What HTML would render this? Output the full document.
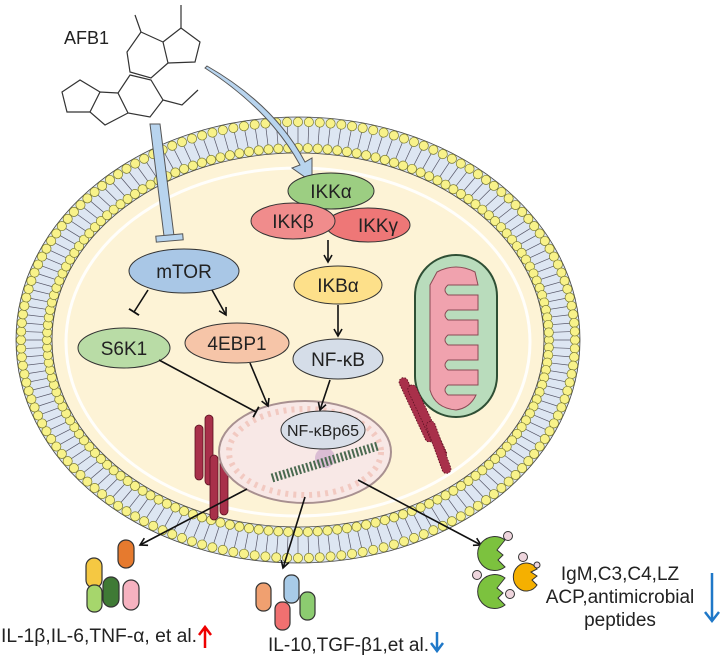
<!DOCTYPE html>
<html><head><meta charset="utf-8"><style>
html,body{margin:0;padding:0;background:#fff;width:721px;height:656px;overflow:hidden}
svg{display:block;font-family:"Liberation Sans",sans-serif}
</style></head><body>
<svg id="fig" width="721" height="656" viewBox="0 0 721 656" xmlns="http://www.w3.org/2000/svg">
<defs>
<marker id="ah" markerWidth="10" markerHeight="10" refX="8" refY="5" orient="auto" markerUnits="userSpaceOnUse"><path d="M1,1 L8,5 L1,9" fill="none" stroke="#111" stroke-width="1.6"/></marker>
<marker id="tb" markerWidth="12" markerHeight="12" refX="1" refY="6" orient="auto" markerUnits="userSpaceOnUse"><path d="M1,0 L1,12" stroke="#111" stroke-width="1.8"/></marker>
</defs>

<!-- membrane -->
<g id="membrane">
<ellipse cx="298" cy="340" rx="282" ry="223" fill="#dde6f2" stroke="#444" stroke-width="0.8"/>
<g id="beads"></g>
<ellipse cx="298" cy="340" rx="246" ry="187" fill="#fdf3d6" stroke="#444" stroke-width="0.8"/>
<ellipse cx="298" cy="342" rx="232" ry="174" fill="none" stroke="#fff" stroke-width="3" opacity="0.9"/>
</g>

<!-- molecule -->
<g stroke="#333" stroke-width="1.2" fill="none">
<path d="M141,32 L163,42 L168,63 L151,78 L130,72 L127,52 Z"/>
<path d="M163,42 L181,28 L200,42 L195,62 L168,63"/>
<path d="M141,32 L135,15 M181,28 L181,5"/>
<path d="M130,75 L151,80 L163,100 L150,117 L128,113 L118,93 Z"/>
<path d="M163,100 L182,105 L198,90"/>
<path d="M118,93 L100,92 L90,112 L105,125 L128,113"/>
<path d="M100,92 L80,80 L62,92 L67,112 L90,112"/>
</g>
<text x="64" y="44" font-size="18" fill="#222">AFB1</text>

<!-- blue arrows -->
<path d="M150,124 L160,124 L174,236 L164,236 Z" fill="#b8d4ee" stroke="#555" stroke-width="1"/>
<rect x="156" y="235" width="27" height="6" fill="#b8d4ee" stroke="#555" stroke-width="1" transform="rotate(-5 169 238)"/>
<path d="M205,68 Q270,110 300,165 L292,168 L312,182 L312,158 L305,162 Q275,105 207,66 Z" fill="#b8d4ee" stroke="#555" stroke-width="1"/>

<!-- mitochondrion -->
<g>
<rect x="415" y="255" width="82" height="162" rx="41" fill="#b9dcbc" stroke="#2f4f35" stroke-width="2"/>
<path d="M437,272 Q456,262 475,272 L478,285 L448,285 Q442,290 448,295 L478,295 L478,310 L448,310 Q442,315 448,320 L478,320 L478,335 L448,335 Q442,340 448,345 L478,345 L478,360 L448,360 Q442,365 448,370 L478,370 L478,385 L448,385 Q442,390 448,395 L476,395 Q470,408 456,410 Q435,408 430,390 L430,285 Z" fill="#f0a2ae" stroke="#8a4a55" stroke-width="1"/>
</g>

<!-- ER left -->
<g fill="#a8304a" stroke="#5a1020" stroke-width="0.8">
<rect x="195" y="425" width="8" height="55" rx="4"/>
<rect x="205" y="415" width="8" height="70" rx="4"/>
<rect x="210" y="455" width="8" height="65" rx="4"/>
<rect x="220" y="460" width="8" height="55" rx="4"/>
</g>
<!-- ER right -->
<g fill="#a8304a" stroke="#5a1020" stroke-width="0.8" stroke-dasharray="1.5 1.5">
<rect x="412" y="375" width="9" height="70" rx="4.5" transform="rotate(-25 416 410)"/>
<rect x="422" y="382" width="9" height="80" rx="4.5" transform="rotate(-25 426 420)"/>
<rect x="434" y="420" width="9" height="55" rx="4.5" transform="rotate(-20 438 447)"/>
</g>

<!-- nucleus -->
<g>
<ellipse cx="305" cy="452" rx="86" ry="51" fill="#f8e8e6" stroke="#a89090" stroke-width="2"/>
<ellipse cx="305" cy="452" rx="76" ry="43" fill="none" stroke="#f0bcb0" stroke-width="6" stroke-dasharray="3 5" opacity="0.7"/>
<circle cx="325" cy="458" r="10" fill="#c8a0c8" opacity="0.6"/>
<path id="dna" d="M272,478 L378,446" stroke="#4a6a50" stroke-width="9" stroke-dasharray="2 2" fill="none"/>
</g>

<!-- nodes -->
<g font-size="19" fill="#222" text-anchor="middle">
<g><ellipse cx="331" cy="191" rx="43" ry="18" fill="#9cce82" stroke="#333"/><text x="331" y="198">IKKα</text></g>
<g><ellipse cx="368" cy="225" rx="42" ry="17" fill="#ee7777" stroke="#333"/><text x="378" y="232">IKKγ</text></g>
<g><ellipse cx="293" cy="221" rx="42" ry="18" fill="#f08c8c" stroke="#333"/><text x="293" y="228">IKKβ</text></g>
<g><ellipse cx="338" cy="285" rx="44" ry="19" fill="#fde08a" stroke="#333"/><text x="338" y="292">IKBα</text></g>
<g><ellipse cx="338" cy="359" rx="45" ry="20" fill="#d5dde8" stroke="#333"/><text x="338" y="366">NF-κB</text></g>
<g><ellipse cx="184" cy="271" rx="55" ry="22" fill="#a9c7e6" stroke="#333"/><text x="184" y="278">mTOR</text></g>
<g><ellipse cx="124" cy="348" rx="46" ry="20" fill="#b9dca6" stroke="#333"/><text x="124" y="355">S6K1</text></g>
<g><ellipse cx="237" cy="343" rx="52" ry="20" fill="#f6c5a8" stroke="#333"/><text x="237" y="350">4EBP1</text></g>
<g><ellipse cx="323" cy="430" rx="42" ry="19" fill="#d8dee8" stroke="#333"/><text x="323" y="436" font-size="16">NF-κBp65</text></g>
</g>

<!-- black arrows -->
<g stroke="#111" stroke-width="1.6" fill="none">
<line x1="328" y1="240" x2="328" y2="262" marker-end="url(#ah)"/>
<line x1="338" y1="305" x2="338" y2="336" marker-end="url(#ah)"/>
<line x1="148" y1="290" x2="134" y2="312" marker-end="url(#tb)"/>
<line x1="212" y1="290" x2="226" y2="315" marker-end="url(#ah)"/>
<line x1="159" y1="360" x2="256" y2="412" marker-end="url(#tb)"/>
<line x1="250" y1="363" x2="268" y2="406" marker-end="url(#ah)"/>
<line x1="330" y1="380" x2="320" y2="410" marker-end="url(#ah)"/>
<line x1="247" y1="489" x2="140" y2="545" marker-end="url(#ah)"/>
<line x1="305" y1="497" x2="283" y2="568" marker-end="url(#ah)"/>
<line x1="358" y1="480" x2="481" y2="545" marker-end="url(#ah)"/>
</g>

<!-- cytokines 1 -->
<g stroke="#333" stroke-width="1.2">
<rect x="118" y="540" width="16" height="28" rx="8" fill="#e67a2e"/>
<rect x="86" y="558" width="16" height="30" rx="8" fill="#f5c842"/>
<rect x="87" y="585" width="15" height="27" rx="7" fill="#a6d66c"/>
<rect x="103" y="577" width="16" height="30" rx="8" fill="#3f7a35"/>
<rect x="123" y="580" width="16" height="30" rx="8" fill="#f6b2c0"/>
</g>
<!-- cytokines 2 -->
<g stroke="#333" stroke-width="1.2">
<rect x="284" y="575" width="15" height="28" rx="7" fill="#a8cbe8"/>
<rect x="256" y="583" width="15" height="28" rx="7" fill="#f0a070"/>
<rect x="275" y="602" width="15" height="28" rx="7" fill="#f07070"/>
<rect x="300" y="592" width="15" height="28" rx="7" fill="#8ccc70"/>
</g>
<!-- immune factors -->
<g stroke="#333" stroke-width="1">
<path d="M505,540 A17,17 0 1,0 505,567 L498,560 L503,555 L497,550 Z" fill="#7cc23e"/>
<path d="M505,578 A17,17 0 1,0 505,605 L498,598 L503,593 L497,588 Z" fill="#7cc23e"/>
<path d="M537,569 A13,14 0 1,0 537,585 L532,580 L537,576 L531,572 Z" fill="#f5b000"/>
<circle cx="508" cy="536" r="4.5" fill="#eed5dd"/><circle cx="523" cy="557" r="4.5" fill="#eed5dd"/>
<circle cx="477" cy="575" r="4.5" fill="#eed5dd"/><circle cx="510" cy="594" r="4.5" fill="#eed5dd"/>
<circle cx="537" cy="565" r="3" fill="#eed5dd"/>
</g>

<!-- labels -->
<text x="1" y="642" font-size="19" textLength="196" lengthAdjust="spacingAndGlyphs" fill="#222">IL-1β,IL-6,TNF-α, et al.</text>
<path d="M205,648 L205,628 M199,635 L205,627 L211,635" stroke="#e00" stroke-width="2.5" fill="none"/>
<text x="268" y="651" font-size="19" textLength="161" lengthAdjust="spacingAndGlyphs" fill="#222">IL-10,TGF-β1,et al.</text>
<path d="M437,632 L437,650 M431,643 L437,651 L443,643" stroke="#1f78c8" stroke-width="2.5" fill="none"/>
<g font-size="19" fill="#222" text-anchor="middle">
<text x="620" y="580">IgM,C3,C4,LZ</text>
<text x="620" y="603">ACP,antimicrobial</text>
<text x="620" y="626">peptides</text>
</g>
<path d="M712,573 L712,620 M705,612 L712,621 L719,612" stroke="#1f78c8" stroke-width="2.5" fill="none"/>
</svg>
<script>
var g=document.getElementById('beads');
var ns='http://www.w3.org/2000/svg';
var cx=298,cy=340;
var N=160;
for(var i=0;i<N;i++){
  var t=i/N*2*Math.PI;
  var ox=cx+277*Math.cos(t), oy=cy+218*Math.sin(t);
  var ix=cx+251*Math.cos(t), iy=cy+192*Math.sin(t);
  var l=document.createElementNS(ns,'line');
  l.setAttribute('x1',ox);l.setAttribute('y1',oy);l.setAttribute('x2',ix);l.setAttribute('y2',iy);
  l.setAttribute('stroke','#556');l.setAttribute('stroke-width','0.7');
  
  
  g.appendChild(l);
  [[ox,oy],[ix,iy]].forEach(function(p){
    var c=document.createElementNS(ns,'circle');
    c.setAttribute('cx',p[0]);c.setAttribute('cy',p[1]);c.setAttribute('r','4.6');
    c.setAttribute('fill','#f8f28a');c.setAttribute('stroke','#7a7a30');c.setAttribute('stroke-width','0.7');
    
    
    g.appendChild(c);
  });
}
</script>
</body></html>
